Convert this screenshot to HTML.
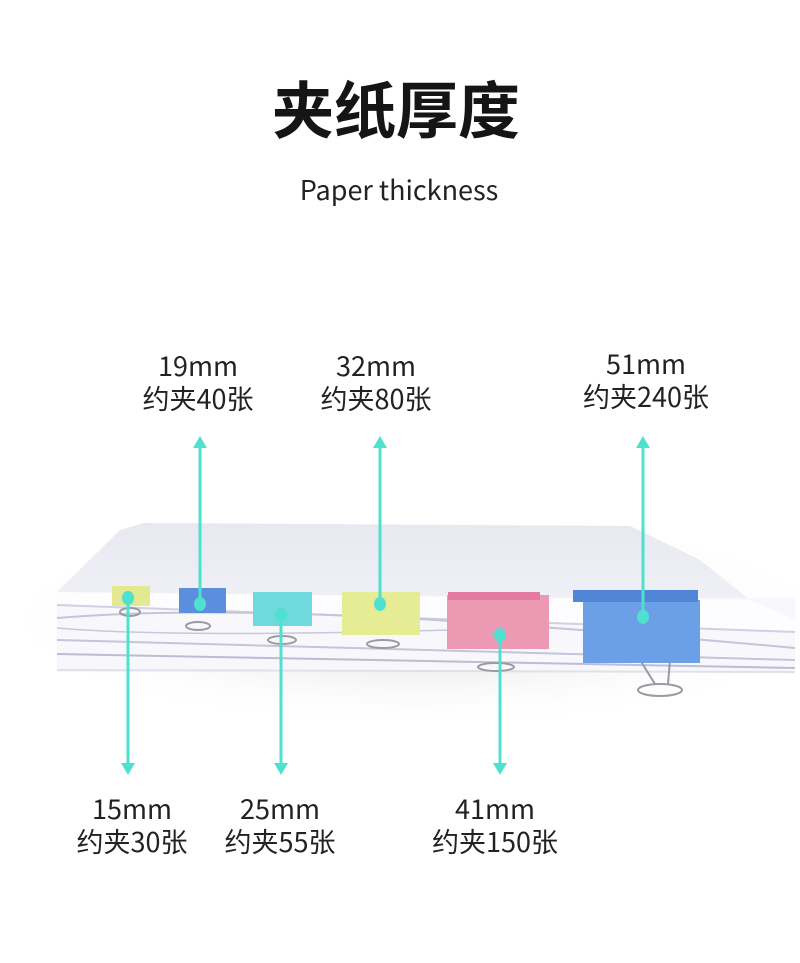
<!DOCTYPE html>
<html><head><meta charset="utf-8"><style>
html,body{margin:0;padding:0;background:#fff;}
body{width:800px;height:963px;position:relative;overflow:hidden;font-family:"Liberation Sans","Noto Sans CJK SC",sans-serif;}
svg{position:absolute;left:0;top:0;}
</style></head><body>
<svg width="800" height="963" viewBox="0 0 800 963" xmlns="http://www.w3.org/2000/svg">
<defs>
<radialGradient id="sh" cx="50%" cy="50%" r="50%">
<stop offset="0%" stop-color="#d0d0d6"/><stop offset="100%" stop-color="#ffffff" stop-opacity="0"/>
</radialGradient>
<linearGradient id="top" x1="0" y1="0" x2="0" y2="1">
<stop offset="0%" stop-color="#e8e8f1"/><stop offset="100%" stop-color="#f3f3f9"/>
</linearGradient>
</defs>
<ellipse cx="420" cy="620" rx="430" ry="110" fill="url(#sh)"/>
<text x="396" y="133" text-anchor="middle" font-family="'Noto Sans CJK SC',sans-serif" font-weight="bold" font-size="62" fill="#151515">夹纸厚度</text>
<text x="399" y="200" text-anchor="middle" font-family="'Noto Sans CJK SC','Liberation Sans',sans-serif" font-size="27" fill="#222">Paper thickness</text>
<!-- paper stack -->
<polygon points="57,592 120,530 144,523 630,526 700,560 750,600 795,620 795,632 57,605" fill="url(#top)"/>
<rect x="57" y="598" width="738" height="74" fill="#f8f8fc"/>
<polygon points="57,592 750,600 795,620 795,632 57,605" fill="#fdfdff"/>
<path d="M57,605 L795,632" stroke="#d0d0e2" stroke-width="2" fill="none"/>
<path d="M57,618 C200,606 400,612 795,648" stroke="#c4c4da" stroke-width="2" fill="none"/>
<path d="M57,628 C150,636 300,634 450,630" stroke="#c8c8dc" stroke-width="1.5" fill="none"/>
<path d="M57,640 L795,660" stroke="#c4c4da" stroke-width="2" fill="none"/>
<path d="M57,654 L795,668" stroke="#bcbcd4" stroke-width="2" fill="none"/>
<path d="M57,670 L795,672" stroke="#e0e0ea" stroke-width="2" fill="none"/>
<!-- wire handles -->
<g fill="none" stroke="#9a9aa0" stroke-width="2">
<ellipse cx="130" cy="612" rx="10" ry="4"/>
<ellipse cx="198" cy="626" rx="12" ry="4"/>
<ellipse cx="282" cy="640" rx="14" ry="4"/>
<ellipse cx="383" cy="644" rx="16" ry="4"/>
<ellipse cx="496" cy="667" rx="18" ry="4"/>
<ellipse cx="660" cy="690" rx="22" ry="6"/>
<path d="M640,660 L655,684 M670,660 L668,684"/>
</g>
<!-- clips -->
<rect x="112" y="586" width="38" height="20" fill="#e2e98e"/>
<rect x="179" y="588" width="47" height="25" fill="#5b8fde"/>
<rect x="253" y="592" width="59" height="34" fill="#6fd9de"/>
<rect x="342" y="592" width="78" height="43" fill="#e6ec94"/>
<rect x="447" y="595" width="102" height="54" fill="#ec9ab4"/>
<rect x="448" y="592" width="92" height="8" fill="#e57aa0"/>
<rect x="583" y="600" width="117" height="63" fill="#6b9fe6"/>
<rect x="573" y="590" width="125" height="12" fill="#4f86d8"/>
<!-- connectors -->
<g stroke="#4fe0cf" stroke-width="3" fill="#4fe0cf">
<line x1="200" y1="604" x2="200" y2="446"/><polygon points="193,448 207,448 200,436" stroke="none"/>
<line x1="380" y1="604" x2="380" y2="446"/><polygon points="373,448 387,448 380,436" stroke="none"/>
<line x1="643" y1="617" x2="643" y2="446"/><polygon points="636,448 650,448 643,436" stroke="none"/>
<line x1="128" y1="598" x2="128" y2="765"/><polygon points="121,763 135,763 128,775" stroke="none"/>
<line x1="281" y1="615" x2="281" y2="765"/><polygon points="274,763 288,763 281,775" stroke="none"/>
<line x1="500" y1="635" x2="500" y2="765"/><polygon points="493,763 507,763 500,775" stroke="none"/>
<ellipse cx="128" cy="598" rx="6" ry="7" stroke="none"/>
<ellipse cx="200" cy="604" rx="6" ry="7" stroke="none"/>
<ellipse cx="281" cy="615" rx="6" ry="7" stroke="none"/>
<ellipse cx="380" cy="604" rx="6" ry="7" stroke="none"/>
<ellipse cx="500" cy="635" rx="6" ry="7" stroke="none"/>
<ellipse cx="643" cy="617" rx="6" ry="7" stroke="none"/>
</g>
<g font-family="'Noto Sans CJK SC',sans-serif" font-size="27" fill="#222" text-anchor="middle">
<text x="198" y="376">19mm</text><text x="198" y="409">约夹40张</text>
<text x="376" y="376">32mm</text><text x="376" y="409">约夹80张</text>
<text x="646" y="374">51mm</text><text x="646" y="407">约夹240张</text>
<text x="132" y="819">15mm</text><text x="132" y="852">约夹30张</text>
<text x="280" y="819">25mm</text><text x="280" y="852">约夹55张</text>
<text x="495" y="819">41mm</text><text x="495" y="852">约夹150张</text>
</g>
</svg>
</body></html>
